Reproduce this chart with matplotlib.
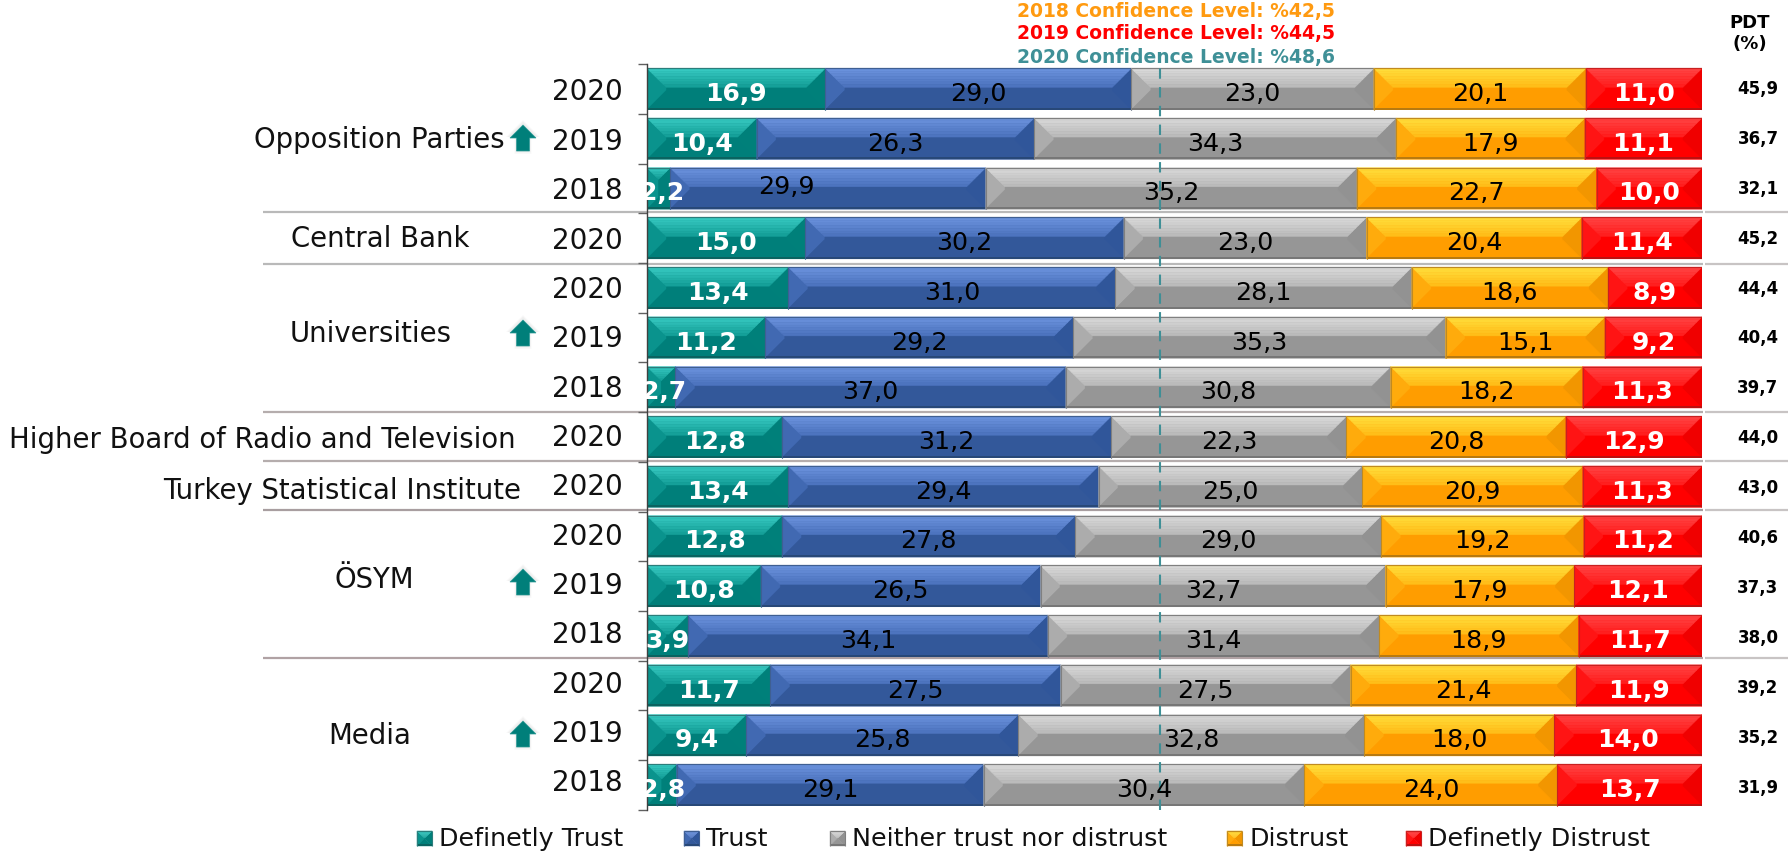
import numpy as np
import matplotlib
matplotlib.use("Agg")
import matplotlib.pyplot as plt
from matplotlib.patches import Polygon
from matplotlib.colors import to_rgb

W, H = 1788, 854
years = ["2020","2019","2018","2020","2020","2019","2018","2020","2020","2020","2019","2018","2020","2019","2018"]
definitely_trust = [16.9,10.4,2.2,15.0,13.4,11.2,2.7,12.8,13.4,12.8,10.8,3.9,11.7,9.4,2.8]
trust = [29.0,26.3,29.9,30.2,31.0,29.2,37.0,31.2,29.4,27.8,26.5,34.1,27.5,25.8,29.1]
neither = [23.0,34.3,35.2,23.0,28.1,35.3,30.8,22.3,25.0,29.0,32.7,31.4,27.5,32.8,30.4]
distrust = [20.1,17.9,22.7,20.4,18.6,15.1,18.2,20.8,20.9,19.2,17.9,18.9,21.4,18.0,24.0]
definitely_distrust = [11.0,11.1,10.0,11.4,8.9,9.2,11.3,12.9,11.3,11.2,12.1,11.7,11.9,14.0,13.7]
pdt = [45.9,36.7,32.1,45.2,44.4,40.4,39.7,44.0,43.0,40.6,37.3,38.0,39.2,35.2,31.9]
series = [definitely_trust, trust, neither, distrust, definitely_distrust]
series_names = ["Definetly Trust","Trust","Neither trust nor distrust","Distrust","Definetly Distrust"]
categories = ["Opposition Parties","Central Bank","Universities","Higher Board of Radio and Television",
              "Turkey Statistical Institute","ÖSYM","Media"]
conf_labels = ["2018 Confidence Level: %42,5","2019 Confidence Level: %44,5","2020 Confidence Level: %48,6"]
conf_2020 = 48.6

# style: top, mid, base, left, right, bottom, edge
palette = [
    ("#3accc4","#129d96","#007f7a","#0a938d","#00807a","#0a6360","#2b7d7b"),
    ("#6d94e0","#4a72bc","#33589a","#4169b2","#30569a","#284878","#3f5f92"),
    ("#dcdcdc","#b8b8b8","#969696","#acacac","#929292","#777777","#808080"),
    ("#ffe03e","#ffbb16","#ff9d00","#ffab0c","#f29600","#b87a10","#c08a20"),
    ("#ff4646","#ff1c1c","#ff0000","#ff1414","#f00000","#bb1010","#c82020"),
]
text_cols = ["white","#000000","#000000","#000000","white"]

fig = plt.figure(figsize=(W/100, H/100), dpi=100)
fig.patch.set_facecolor("white")
AX_L, AX_R, AX_T, AX_B = 647, 1702, 65.2, 810.8
ax = fig.add_axes([AX_L/W, 1-AX_B/H, (AX_R-AX_L)/W, (AX_B-AX_T)/H])
ax.set_xlim(0, 100); ax.set_ylim(14.5, -0.5)
ax.patch.set_alpha(0)
PX = 100/(AX_R-AX_L); PY = 15/(AX_B-AX_T)
rows = np.arange(15)
BAR_H = 41.4*PY

ov = fig.add_axes([0,0,1,1], zorder=-1)
ov.set_xlim(0,W); ov.set_ylim(H,0); ov.axis("off")

def mix(a,b,t):
    a,b = np.array(to_rgb(a)),np.array(to_rgb(b))
    return a*(1-t)+b*t

def bevel(a, x0, x1, y0, y1, pal, sx, sy, inset=19.0, zo=2):
    """x0,x1,y0,y1 in a's data coords, y0 = top; sx,sy = data units per pixel"""
    top,mid,base,left,right,bottom,edge = pal
    w_px = abs(x1-x0)/sx; h_px = abs(y1-y0)/abs(sy)
    b = min(inset, w_px/2, h_px/2)
    bx, by = b*sx, b*sy
    ym = y0+by
    add = lambda pts,c,z=zo: a.add_patch(Polygon(pts,closed=True,fc=c,ec=c,lw=0.3,zorder=z))
    add([(x0+bx,ym),(x0,y0),(x0,y1),(x0+bx,y1-by)],left)
    add([(x1-bx,ym),(x1,y0),(x1,y1),(x1-bx,y1-by)],right)
    n = 7
    for i in range(n):
        t0,t1 = i/n,(i+1)/n
        c = mix(top,mid,(t0+t1)/2)
        add([(x0+bx*t0,y0+by*t0),(x1-bx*t0,y0+by*t0),(x1-bx*t1,y0+by*t1),(x0+bx*t1,y0+by*t1)],c)
    s = 2.0*sy
    add([(x0+bx,y1-by),(x1-bx,y1-by),(x1,y1),(x0,y1)],base)
    a.add_patch(Polygon([(x0,y1-s),(x1,y1-s),(x1,y1),(x0,y1)],fc=bottom,ec="none",zorder=zo))
    a.plot([x0,x0],[y0,y1],color=edge,lw=0.8,zorder=zo,solid_capstyle="butt")
    a.plot([x1,x1],[y0,y1],color=edge,lw=0.8,zorder=zo,solid_capstyle="butt")
    a.plot([x0,x1],[y0,y0],color=edge,lw=0.9,zorder=zo,solid_capstyle="butt")

# label adjustments in pixels for labels moved by hand in the original
adjust = {(1,2):(-42,-6),(0,2):(3,0),(0,6):(3,0),(0,14):(1,0)}
lefts = np.zeros(15)
for k,vals in enumerate(series):
    vals = np.array(vals)
    ax.barh(rows, vals, left=lefts, height=BAR_H, color=palette[k][2], linewidth=0, zorder=1)
    for i in rows:
        x0,x1 = lefts[i],lefts[i]+vals[i]
        bevel(ax,x0,x1,i-BAR_H/2,i+BAR_H/2,palette[k],PX,PY)
    for i in rows:
        dx,dy = adjust.get((k,int(i)),(0,0))
        bold = text_cols[k]=="white"
        ax.annotate(f"{vals[i]:.1f}".replace(".",","),xy=(lefts[i]+vals[i]/2,i),xytext=(dx,-11-dy),
                    textcoords="offset pixels",ha="center",va="baseline",color=text_cols[k],
                    fontsize=18 if bold else 18.3,fontweight="bold" if bold else "normal",zorder=6,
                    annotation_clip=False)
    lefts = lefts+vals

ax.axvline(conf_2020,color="#3f8f96",lw=1.5,dashes=(5,4),zorder=4)

for s in ("top","right","bottom"):
    ax.spines[s].set_visible(False)
ax.spines["left"].set_color("#404040"); ax.spines["left"].set_linewidth(1.0)
ax.spines["left"].set_zorder(5)
ax.set_xticks([])
ax.set_yticks(np.arange(-0.5,15,1)); ax.set_yticklabels([])
ax.tick_params(axis="y",length=6.5,width=1.0,color="#606060")

# Year and PDT columns
for i in rows:
    ov.text(623,91.5+49.35*i+9,years[i],ha="right",va="baseline",fontsize=20,color="#111111")
    ov.text(1758,88+49.9*i+6,f"{pdt[i]:.1f}".replace(".",","),ha="center",va="baseline",fontsize=12,
            fontweight="bold",color="black")

# Categories
cat_pos = [(379,140),(380,239),(371,334),(262,440),(342,491),(374,580),(370,736)]
for name,(x,y) in zip(categories,cat_pos):
    ov.text(x,y,name,ha="center",va="center",fontsize=19.8,color="#111111")

# Separators
for y,c in [(212.5,"#b9b9b9"),(265,"#b9b9b9"),(412.5,"#b5adad"),(461.5,"#b5adad"),(511,"#a89ea0"),(658.5,"#b0a2a4")]:
    ov.plot([263,1703],[y,y],color=c,lw=1.6,solid_capstyle="butt")
    ov.plot([1705,W],[y,y],color="#c8c4c4",lw=1.6,solid_capstyle="butt")

# Arrows
def arrow(cx,cy):
    pts = np.array([(0,-13),(13,0),(6.5,0),(6.5,13),(-6.5,13),(-6.5,0),(-13,0)],float)
    for sc,al in [(1.3,0.05),(1.18,0.07)]:
        ov.add_patch(Polygon(pts*sc+[cx,cy-1],fc="#808080",ec="none",alpha=al))
    ov.add_patch(Polygon(pts+[cx,cy],fc="#007f7a",ec="#2f9a96",lw=0.5))
for cx,cy in [(523,139),(523,334),(523,583),(523,735)]:
    arrow(cx,cy)

# Confidence lines
for t,c,y in zip(conf_labels,["#ff9a10","#ff0000","#3f9097"],[11,34,57]):
    ov.text(1176,y,t,ha="center",va="center",fontsize=13.5,fontweight="bold",color=c)

# PDT header
ov.text(1750,23,"PDT",ha="center",va="center",fontsize=13,fontweight="bold",color="black")
ov.text(1750,44,"(%)",ha="center",va="center",fontsize=13,fontweight="bold",color="black")

# Legend
leg_x = [417,684,830,1227,1406]
for k,(x,name) in enumerate(zip(leg_x,series_names)):
    bevel(ov,x,x+15,832,847,palette[k],1,1,inset=8,zo=3)
    ov.text(x+22,839,name,ha="left",va="center",fontsize=18.3,color="#111111")

fig.savefig("out.png",dpi=100)
